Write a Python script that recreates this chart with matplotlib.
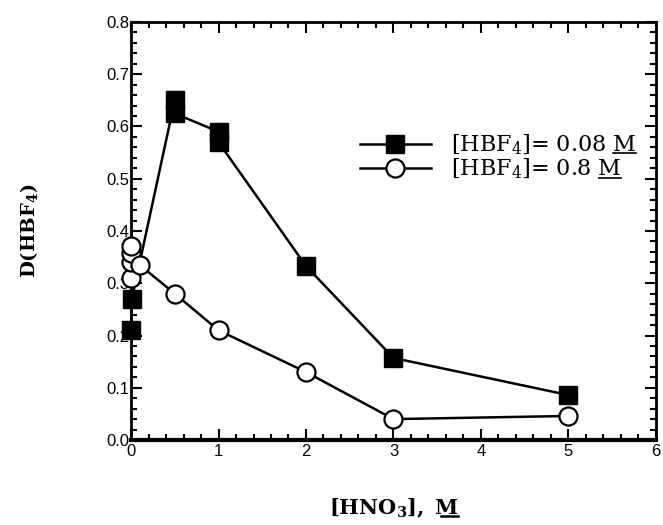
import matplotlib
matplotlib.use("Agg")
import matplotlib.pyplot as plt
from matplotlib.ticker import MultipleLocator, FormatStrFormatter
from matplotlib.lines import Line2D

# D(HBF4) vs [HNO3]
hno3_low = [0.0, 0.01, 0.5, 0.5, 1.0, 1.0, 2.0, 3.0, 5.0]
d_low = [0.21, 0.27, 0.65, 0.625, 0.59, 0.57, 0.333, 0.157, 0.086]

hno3_high = [0.0, 0.0, 0.0, 0.0, 0.1, 0.5, 1.0, 2.0, 3.0, 5.0]
d_high = [0.31, 0.34, 0.357, 0.372, 0.335, 0.28, 0.21, 0.13, 0.04, 0.046]

labels = [r'[HBF$_4$]= 0.08 M', r'[HBF$_4$]= 0.8 M']

plt.rcParams['font.family'] = ['Liberation Sans', 'DejaVu Sans']
plt.rcParams['mathtext.fontset'] = 'custom'
plt.rcParams['mathtext.rm'] = 'DejaVu Serif'
plt.rcParams['mathtext.it'] = 'DejaVu Serif:italic'
plt.rcParams['mathtext.bf'] = 'DejaVu Serif:bold'


def underline_last(fig, txt, renderer, lw=1.2):
    # draw a line under the final "M" of a text object
    bb = txt.get_window_extent(renderer)
    prop = txt.get_fontproperties()
    w, h, d = renderer.get_text_width_height_descent('M', prop, ismath=False)
    _, _, d_full = renderer.get_text_width_height_descent(txt.get_text(), prop, ismath=True)
    base = bb.y0 + d_full - 2
    inv = fig.transFigure.inverted()
    (x0, y0), (x1, y1) = inv.transform([(bb.x1 - w, base), (bb.x1, base)])
    fig.add_artist(Line2D([x0, x1], [y0, y1], color='black', lw=lw,
                          transform=fig.transFigure))


fig = plt.figure(figsize=(6.63, 5.25), dpi=100)
ax = fig.add_axes([0.1976, 0.1619, 0.7918, 0.7962])

ax.plot(hno3_low, d_low, color='black', lw=1.8, marker='s', ms=13,
        mfc='black', mec='black', label=labels[0], zorder=3, clip_on=False)
ax.plot(hno3_high, d_high, color='black', lw=1.8, marker='o', ms=13,
        mfc='white', mec='black', mew=1.6, label=labels[1], zorder=4, clip_on=False)

ax.set_xlim(0, 6)
ax.set_ylim(0, 0.8)
ax.xaxis.set_major_locator(MultipleLocator(1))
ax.xaxis.set_minor_locator(MultipleLocator(0.2))
ax.yaxis.set_major_locator(MultipleLocator(0.1))
ax.yaxis.set_minor_locator(MultipleLocator(0.02))
ax.yaxis.set_major_formatter(FormatStrFormatter('%.1f'))
ax.tick_params(which='both', direction='in', top=True, right=True,
               width=1.5, labelsize=12)
ax.tick_params(which='major', length=8, pad=3)
ax.tick_params(which='minor', length=4)
ax.tick_params(axis='y', pad=1)
for s in ax.spines.values():
    s.set_linewidth(2)
ax.spines['bottom'].set_linewidth(3)

xl = ax.set_xlabel(r'$\mathbf{[HNO_3],\ M}$', fontsize=15, labelpad=27)
ax.set_ylabel(r'$\mathbf{D(HBF_4)}$', fontsize=14, labelpad=48)

leg = ax.legend(loc='upper left', bbox_to_anchor=(0.436, 0.735), frameon=False,
                borderpad=0, borderaxespad=0,
                handlelength=3.2, handletextpad=0.9, labelspacing=0.0,
                prop={'family': 'DejaVu Serif', 'size': 16})

fig.canvas.draw()
r = fig.canvas.get_renderer()
for t in leg.get_texts():
    underline_last(fig, t, r)
underline_last(fig, xl, r, lw=1.8)

fig.savefig('out.png', dpi=100)
